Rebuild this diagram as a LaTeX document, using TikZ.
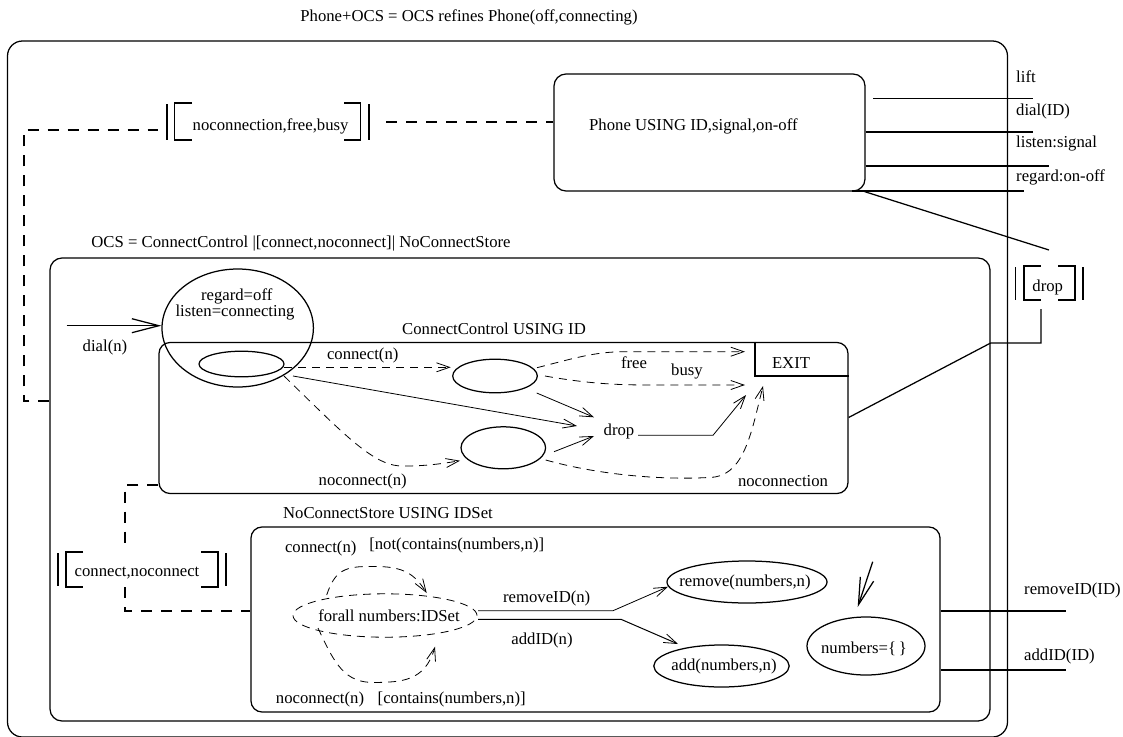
\documentclass[tikz,border=0pt]{standalone}
\usepackage{fontspec}
\setmainfont{Liberation Serif}
\usetikzlibrary{arrows.meta,shapes.geometric,calc}
\tikzset{
  box/.style={draw,rectangle,inner sep=0pt,line width=1.25pt},
  oval/.style={draw,ellipse,inner sep=0pt,line width=1.25pt},
  lab/.style={inner sep=0pt,font=\fontsize{16.7}{19}\selectfont},
  wire/.style={line width=1.25pt},
  syncline/.style={line width=1.25pt,dash pattern=on 11pt off 9pt},
  bracket/.style={line width=1.25pt},
  trans/.style={line width=0.8pt,-{Straight Barb[length=13pt,width=9pt,line width=0.8pt]}},
  dtrans/.style={line width=0.8pt,dash pattern=on 8pt off 6pt,-{Straight Barb[length=13pt,width=9pt,line width=0.8pt]}},
  init/.style={line width=1.25pt,-{Straight Barb[length=27pt,width=14pt,line width=1.25pt]}},
}
\begin{document}
\begin{tikzpicture}[x=1pt,y=-1pt]
\useasboundingbox (0,0) rectangle (1123,736);
% boxes
\node[box,rounded corners=15pt,minimum width=1000pt,minimum height=696pt] (outer) at (507.5,389) {};
\node[box,rounded corners=12pt,minimum width=940pt,minimum height=463pt] (ocs) at (520,489.5) {};
\node[box,rounded corners=11pt,minimum width=689pt,minimum height=151pt] (cc) at (503.5,418) {};
\node[box,rounded corners=11pt,minimum width=689pt,minimum height=185pt] (ncs) at (595.5,619.5) {};
\node[box,rounded corners=12pt,minimum width=311pt,minimum height=117pt] (phone) at (709.5,132.5) {};
% ovals
\node[oval,minimum width=151.4pt,minimum height=118pt] (start) at (237.7,328) {};
\node[oval,minimum width=85pt,minimum height=25.6pt] (s0) at (241.5,364) {};
\node[oval,minimum width=84.6pt,minimum height=33.6pt] (sa) at (495,376) {};
\node[oval,minimum width=84.6pt,minimum height=42pt] (sb) at (503.3,447.8) {};
\node[oval,minimum width=184pt,minimum height=43.4pt,line width=0.8pt,dash pattern=on 8pt off 6pt] (fa) at (385,615.5) {};
\node[oval,minimum width=160pt,minimum height=42pt] (rm) at (747,582) {};
\node[oval,minimum width=135.4pt,minimum height=42pt] (ad) at (721.5,666) {};
\node[oval,minimum width=118pt,minimum height=58pt] (nm) at (866,646) {};
% labels
\node[lab] (title) at (469,17) {Phone+OCS = OCS refines Phone(off,connecting)};
\node[lab,anchor=west] (tphone) at (589,126) {Phone USING ID,signal,on-off};
\node[lab] (tocs) at (301,244) {OCS = ConnectControl |[connect,noconnect]| NoConnectStore};
\node[lab] (tsync1) at (270.6,126) {noconnection,free,busy};
\node[lab] (tsync2) at (137,573) {connect,noconnect};
\node[lab] (tsync3) at (1047.7,287) {drop};
\node[lab,anchor=west] (tlift) at (1016,77) {lift};
\node[lab,anchor=west] (tdial) at (1016,111) {dial(ID)};
\node[lab,anchor=west] (tlisten) at (1016,144) {listen:signal};
\node[lab,anchor=west] (tregard) at (1016,177) {regard:on-off};
\node[lab] (t1) at (236.7,296) {regard=off};
\node[lab] (t2) at (235,313) {listen=connecting};
\node[lab] (tdialn) at (105,347) {dial(n)};
\node[lab] (tcc) at (494,329) {ConnectControl USING ID};
\node[lab] (tconn) at (362.7,355) {connect(n)};
\node[lab] (tnoconn) at (362.7,481) {noconnect(n)};
\node[lab] (tfree) at (634,363) {free};
\node[lab] (tbusy) at (687,371.7) {busy};
\node[lab] (tdrop) at (619,431) {drop};
\node[lab] (texit) at (791,362.7) {EXIT};
\node[lab] (tnocon) at (783,481) {noconnection};
\node[lab] (tncs) at (388,513) {NoConnectStore USING IDSet};
\node[lab] (tc2) at (320.7,548) {connect(n)};
\node[lab] (tg1) at (456.7,545) {[not(contains(numbers,n)]};
\node[lab] (tfa) at (389,615.7) {forall numbers:IDSet};
\node[lab] (tn2) at (320,699) {noconnect(n)};
\node[lab] (tg2) at (451.7,699) {[contains(numbers,n)]};
\node[lab] (trem) at (546.7,598) {removeID(n)};
\node[lab] (tadd) at (542,640.7) {addID(n)};
\node[lab] (trm) at (745,582) {remove(numbers,n)};
\node[lab] (tad) at (724,666) {add(numbers,n)};
\node[lab] (tnm) at (864,649) {numbers=\{\,\}};
\node[lab,anchor=west] (trid) at (1024,590) {removeID(ID)};
\node[lab,anchor=west] (taid) at (1024,656.7) {addID(ID)};
% EXIT box
\draw[wire] (755,0 |- cc.north) |- (cc.east |- 0,376);
% sync brackets 1
\draw[bracket] (167,104) -- (167,139.5) (369,104) -- (369,139.5);
\draw[bracket] (192,103) -- (174.6,103) -- (174.6,140) -- (192,140);
\draw[bracket] (344,103) -- (360.7,103) -- (360.7,140) -- (344,140);
% sync brackets 2
\draw[bracket] (58,553) -- (58,586) (226,553) -- (226,586);
\draw[bracket] (83,552) -- (66,552) -- (66,587) -- (83,587);
\draw[bracket] (201,552) -- (218,552) -- (218,587) -- (201,587);
% sync brackets 3
\draw[bracket] (1015.7,267) -- (1015.7,300) (1083,267) -- (1083,300);
\draw[bracket] (1040.7,266) -- (1024,266) -- (1024,300) -- (1040.7,300);
\draw[bracket] (1058,266) -- (1075,266) -- (1075,300) -- (1058,300);
% sync connectors
\coordinate (q1) at (158,130);
\coordinate (q2) at (386,122);
\coordinate (q3) at (125,543);
\coordinate (q4) at (125,587);
\draw[syncline] (ocs.west |- 0,401) -| (24,130) -- (q1);
\draw[syncline] (q2) -- (phone.west |- q2);
\draw[syncline] (cc.west |- 0,485) -| (q3);
\draw[syncline] (q4) |- (ncs.west |- 0,611);
% drop connectors
\coordinate (d1) at (1049,250);
\coordinate (d2) at (1041,309);
\draw[wire] (phone.south east) ++(-1,0) -- (d1);
\draw[wire] (d2) |- (ocs.east |- 0,343) -- (cc.east |- 0,417.5);
% phone wires
\draw[wire] (873,98.7) -- (1033,98.7);
\draw[wire] (phone.east |- 0,132) -- (1033,132);
\draw[wire] (phone.east |- 0,166) -- (1049,166);
\draw[wire] (852,191) -- (1024,191);
\draw[wire] (ncs.east |- 0,611) -- (1066,611);
\draw[wire] (ncs.east |- 0,670) -- (1066,670);
% initial arrows
\coordinate (i1) at (66.7,325.7);
\coordinate (i2) at (872.7,561.7);
\draw[init] (i1) -- (start.west |- i1);
\draw[init] (i2) -- (857.7,607);
% transitions
\coordinate (a1) at (284,367.3);
\coordinate (a2) at (450.7,367.3);
\draw[dtrans] (a1) -- (a2);
\coordinate (b1) at (293,376);
\coordinate (b2) at (577,426);
\draw[trans] (b1) -- (b2);
\coordinate (c1) at (284,376);
\coordinate (c2) at (460,460.7);
\draw[dtrans] (c1) .. controls (345,435) and (375,468) .. (405,466) .. controls (425,466) and (440,464) .. (c2);
\coordinate (e1) at (537,367.7);
\coordinate (e2) at (745,351.7);
\draw[dtrans] (e1) .. controls (575,358) and (595,351.7) .. (625,351.7) -- (e2);
\coordinate (f1) at (545,376);
\coordinate (f2) at (745,385);
\draw[dtrans] (f1) .. controls (590,384) and (620,385) .. (650,385) -- (f2);
\coordinate (g1) at (536.7,393);
\coordinate (g2) at (594,417.3);
\draw[trans] (g1) -- (g2);
\coordinate (h1) at (554,451.7);
\coordinate (h2) at (594,436);
\draw[trans] (h1) -- (h2);
\coordinate (j1) at (638,435.3);
\coordinate (j2) at (746,395);
\draw[trans] (j1) -- (713,435.3) -- (j2);
\coordinate (k1) at (545.7,460);
\coordinate (k2) at (763,386);
\draw[dtrans] (k1) .. controls (610,478) and (680,480) .. (715,477) .. controls (745,472) and (752,430) .. (k2);
\coordinate (l1) at (326.7,595);
\coordinate (l2) at (426.7,593);
\draw[dtrans] (l1) .. controls (335,570) and (345,566) .. (373,566.5) .. controls (405,566) and (415,575) .. (l2);
\coordinate (m1) at (318,628);
\coordinate (m2) at (435,646.7);
\draw[dtrans] (m1) .. controls (335,665) and (345,683) .. (375,682.5) .. controls (400,682) and (425,682) .. (m2);
\coordinate (n1) at (478,610.7);
\coordinate (n2) at (668,586.7);
\draw[trans] (n1) -- (613,610.7) -- (n2);
\coordinate (o1) at (478,619.3);
\coordinate (o2) at (678,644);
\draw[trans,line width=1pt] (o1) -- (621,619.3) -- (o2);
\end{tikzpicture}
\end{document}
